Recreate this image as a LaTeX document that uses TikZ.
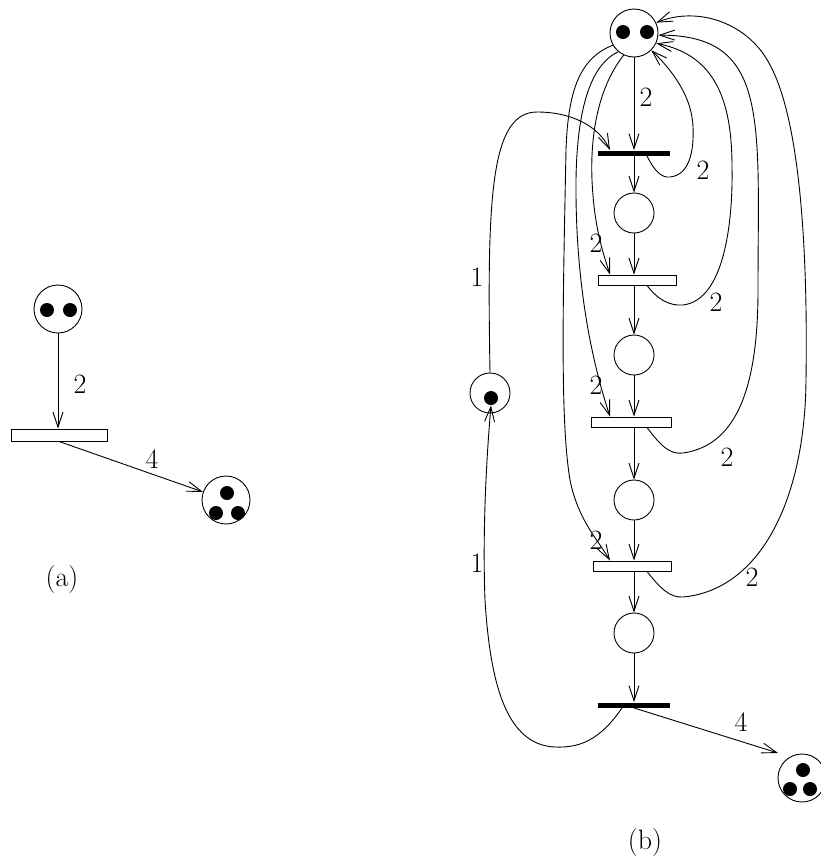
\documentclass[tikz,border=0pt]{standalone}
\usepackage{fontspec}
\usetikzlibrary{arrows.meta}
\begin{document}
\begin{tikzpicture}[x=1pt, y=-1pt, line width=0.9pt,
    place/.style={draw, circle, minimum size=40pt, inner sep=0pt},
    bigplace/.style={place, minimum size=48pt},
    token/.style={fill, circle, minimum size=14pt, inner sep=0pt},
    trans/.style={draw, rectangle, minimum width=78pt, minimum height=10pt, inner sep=0pt},
    bar/.style={fill, rectangle, minimum width=72pt, minimum height=5pt, inner sep=0pt},
    arc/.style={-{Straight Barb[length=15pt, width=10pt]}},
    wt/.style={font=\fontsize{28}{34}\selectfont, inner sep=0pt}]
    \useasboundingbox (0,0) rectangle (821,863);
    % (a)
    \node[bigplace] (pa) at (58,309) {};
    \node[token] (pa1) at (47,310) {};
    \node[token] (pa2) at (70,310) {};
    \node[trans, minimum width=96pt, minimum height=12pt] (ta) at (59,435) {};
    \node[bigplace] (qa) at (226,500) {};
    \foreach \n/\x/\y in {1/227/493, 2/216/513, 3/238/513}
      \node[token] (qa\n) at (\x,\y) {};
    \draw[arc] (pa) -- (pa |- ta.north);
    \node[wt] (wa) at (80,384) {2};
    \draw[arc] (ta.south) -- (qa);
    \node[wt] (wb) at (152,459) {4};
    \node[wt] (capa) at (62,580) {(a)};
    % (b)
    \node[bigplace] (P0) at (634,33) {};
    \node[token] (P0a) at (623,32) {};
    \node[token] (P0b) at (647,32) {};
    \node[bar] (T1) at (634,153) {};
    \node[place] (P1) at (634,213) {};
    \node[trans] (T2) at (637,280) {};
    \node[place] (P2) at (634,355) {};
    \node[trans, minimum width=80pt] (T3) at (631,422) {};
    \node[place] (P3) at (634,500) {};
    \node[trans] (T4) at (632,566) {};
    \node[place] (P4) at (634,633) {};
    \node[bar] (T5) at (634,705) {};
    \node[place] (Pl) at (490,393) {};
    \node[token] (Plk) at (491,398) {};
    \node[bigplace] (Q) at (802,778) {};
    \foreach \n/\x/\y in {1/803/770, 2/790/789, 3/810/789}
      \node[token] (Q\n) at (\x,\y) {};
    \coordinate (lx) at (610,0);
    \coordinate (rx) at (647,0);
    \foreach \a/\b in {P0/T1, T1/P1, P1/T2, T2/P2, P2/T3, T3/P3, P3/T4, T4/P4, P4/T5}
      \draw[arc] (P0 |- \a.south) -- (P0 |- \b.north);
    \node[wt] (w01) at (646,97) {2};
    % arcs back to the top place
    \draw[arc] (rx |- T1.south) .. controls (655,172) and (662,178) .. (670,177)
      .. controls (690,175) and (694,150) .. (693,127)
      .. controls (692,95) and (670,68) .. (P0.-45);
    \draw[arc] (rx |- T2.south) .. controls (658,300) and (670,306) .. (683,305)
      .. controls (725,300) and (733,220) .. (732,167)
      .. controls (732,100) and (715,55) .. (P0.-25);
    \draw[arc] (rx |- T3.south) .. controls (660,445) and (670,455) .. (683,453)
      .. controls (740,445) and (758,380) .. (758,290)
      .. controls (758,120) and (770,35) .. (P0.-5);
    \draw[arc] (rx |- T4.south) .. controls (660,588) and (670,598) .. (683,597)
      .. controls (760,590) and (805,500) .. (806,380)
      .. controls (808,250) and (800,120) .. (770,65)
      .. controls (750,25) and (700,5) .. (P0.25);
    \node[wt] (w1) at (703,170) {2};
    \node[wt] (w2) at (716,302) {2};
    \node[wt] (w3) at (727,457) {2};
    \node[wt] (w4) at (752,577) {2};
    % arcs from the top place
    \draw[arc] (P0.-115) .. controls (600,85) and (590,130) .. (592,180)
      .. controls (594,225) and (602,250) .. (lx |- T2.north);
    \draw[arc] (P0.-130) .. controls (590,65) and (577,110) .. (576,180)
      .. controls (575,300) and (598,380) .. (lx |- T3.north);
    \draw[arc] (P0.-150) .. controls (580,58) and (568,90) .. (566,150)
      .. controls (563,300) and (560,420) .. (570,480)
      .. controls (578,520) and (598,540) .. (lx |- T4.north);
    \node[wt] (v2) at (596,243) {2};
    \node[wt] (v3) at (596,385) {2};
    \node[wt] (v4) at (596,540) {2};
    % the one-token place
    \draw[arc] (Pl.north) .. controls (487,200) and (490,112) .. (537,112)
      .. controls (570,112) and (598,125) .. (lx |- T1.north);
    \node[wt] (u1) at (477,277) {1};
    \draw[arc] ([xshift=-12pt]T5.south) .. controls (600,740) and (580,748) .. (555,747)
      .. controls (505,745) and (490,680) .. (485,600)
      .. controls (482,520) and (488,440) .. (Plk.south);
    \node[wt] (u2) at (477,563) {1};
    \draw[arc] (T5.south) -- ([shift={(-24,-25)}]Q.center);
    \node[wt] (w5) at (741,722) {4};
    \node[wt] (capb) at (645,843) {(b)};
\end{tikzpicture}
\end{document}
